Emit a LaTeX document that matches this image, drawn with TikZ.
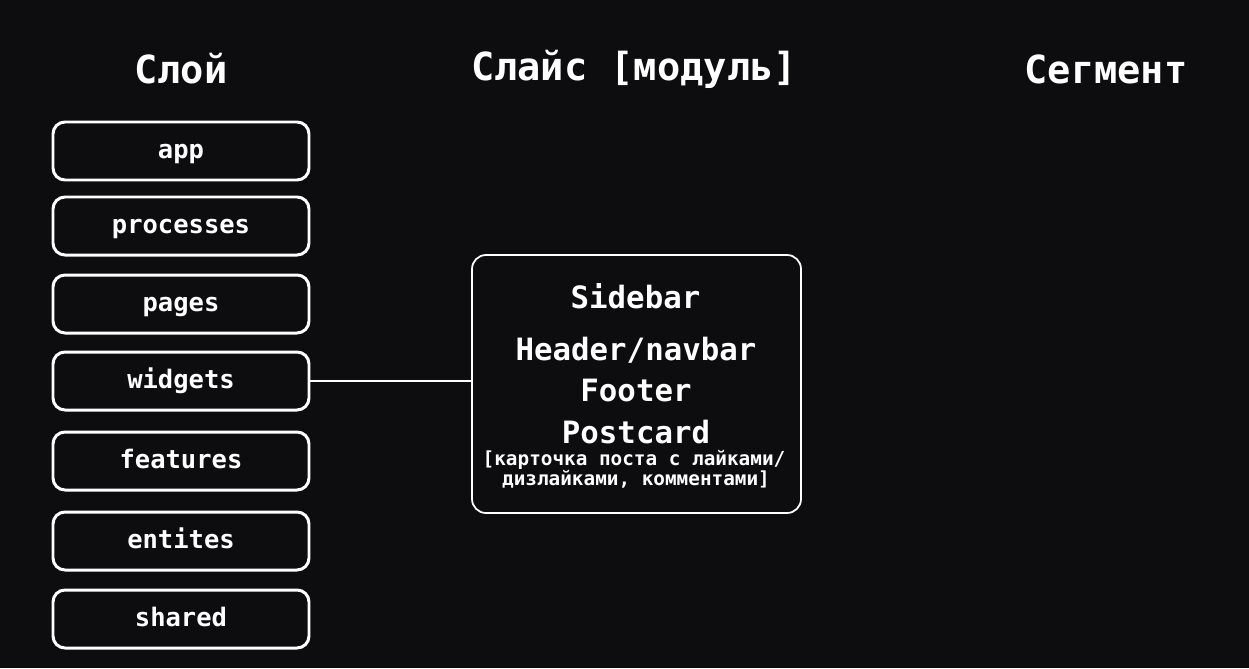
\documentclass[tikz,border=0pt]{standalone}
\usepackage{fontspec}
\setmainfont{DejaVu Sans Mono}
\usetikzlibrary{positioning}
\definecolor{bgdark}{RGB}{13,12,14}

\begin{document}
\begin{tikzpicture}[
    layer/.style={draw=white, line width=1.7pt, rounded corners=0.24cm, minimum width=5.12cm,
                  minimum height=1.16cm, text=white, text height=1.0em, text depth=0.15em,
                  font=\bfseries\fontsize{14.5}{14.5}\selectfont},
    slicebox/.style={draw=white, line width=1pt, rounded corners=0.28cm, minimum width=6.58cm,
                     minimum height=5.16cm},
    title/.style={anchor=base, inner sep=0pt, text=white, font=\bfseries\fontsize{22}{22}\selectfont},
    item/.style={anchor=base, inner sep=0pt, text=white, font=\bfseries\fontsize{17.5}{17.5}\selectfont},
    note/.style={anchor=base, inner sep=0pt, text=white, font=\bfseries\fontsize{11}{11}\selectfont},
    link/.style={draw=white, line width=1.1pt},
]
% background, fixes the page size
\fill[bgdark] (0,0) rectangle (24.98,-13.36);

% column titles
\node[title] (tlayer) at (3.62,-1.66) {Слой};
\node[title] (tslice) at (12.68,-1.60) {Слайс [модуль]};
\node[title] (tsegment) at (22.12,-1.66) {Сегмент};

% layers
\node[layer] (app) at (3.62,-3.02) {app};
\node[layer] (processes) at (3.62,-4.52) {processes};
\node[layer] (pages) at (3.62,-6.08) {pages};
\node[layer] (widgets) at (3.62,-7.62) {widgets};
\node[layer] (features) at (3.62,-9.22) {features};
\node[layer] (entites) at (3.62,-10.82) {entites};
\node[layer] (shared) at (3.62,-12.38) {shared};

% slices of widgets
\node[slicebox] (slice) at (12.73,-7.68) {};
\node[item] (sidebar) at (12.71,-6.16) {Sidebar};
\node[item] (header) at (12.72,-7.20) {Header/navbar};
\node[item] (footer) at (12.72,-8.02) {Footer};
\node[item] (postcard) at (12.72,-8.87) {Postcard};
\node[note] (pcnote1) at (12.68,-9.31) {[карточка поста с лайками/};
\node[note] (pcnote2) at (12.72,-9.71) {дизлайками, комментами]};

\draw[link] (widgets.east) -- (widgets.east -| slice.west);
\end{tikzpicture}
\end{document}
